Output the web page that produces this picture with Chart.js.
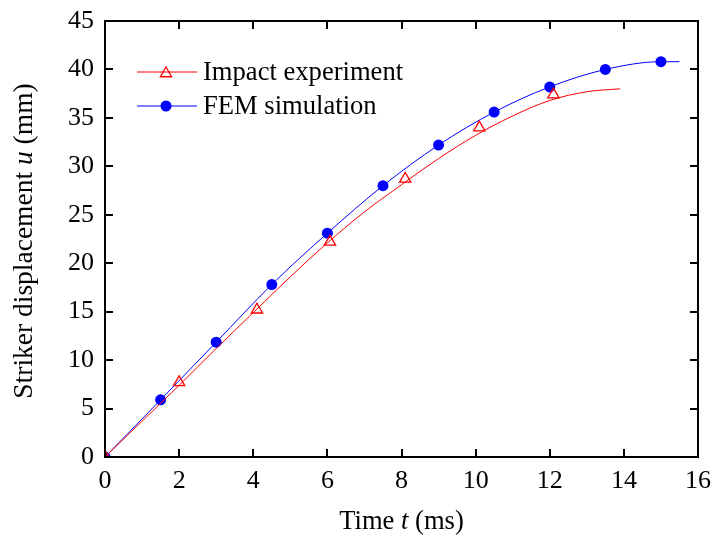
<!DOCTYPE html>
<html>
<head>
<meta charset="utf-8">
<script src="https://cdn.jsdelivr.net/npm/chart.js@4.4.1/dist/chart.umd.min.js"></script>
<style>
  body { margin: 0; background: #fff; }
  canvas { display: block; }
</style>
</head>
<body>
<canvas id="myChart" width="716" height="544"></canvas>
<script>
"use strict";

// measured striker displacement (impact test)
const timeExp = [0, 1, 2, 3, 4, 5, 6, 7, 8, 9, 10, 11, 12, 13, 13.9];
const dispExp = [0, 3.7, 7.4, 11.2, 14.9, 18.6, 22.1, 25.3, 28.1, 30.8, 33.2, 35.2, 36.8, 37.7, 38.0];
// triangle markers on the measured curve
const markTime = [0, 2, 4.1, 6.07, 8.1, 10.1, 12.1];
const markDisp = [0, 7.7, 15.2, 22.2, 28.7, 34.0, 37.4];
// finite element result
const timeSim = [0, 1.5, 3, 4.5, 6, 7.5, 9, 10.5, 12, 13.5, 15, 15.5];
const dispSim = [0, 5.9, 11.85, 17.8, 23.1, 28.0, 32.2, 35.6, 38.2, 40.0, 40.8, 40.8];
// axis ticks
const xTicks = [0, 2, 4, 6, 8, 10, 12, 14, 16];
const yTicks = [0, 5, 10, 15, 20, 25, 30, 35, 40, 45];

const FONT = "'Liberation Serif', 'Times New Roman', serif";
const RED = "#ff0000";
const BLUE = "#0000ff";

function toXY(xs, ys) {
    return xs.map((x, i) => ({x: x, y: ys[i]}));
}

function drawTriangle(ctx, x, y, r) {
    ctx.beginPath();
    ctx.moveTo(x, y - r);
    ctx.lineTo(x + r * Math.sqrt(3) / 2, y + r / 2);
    ctx.lineTo(x - r * Math.sqrt(3) / 2, y + r / 2);
    ctx.closePath();
    ctx.stroke();
}

// frame, inward ticks, legend and axis titles
const decorations = {
    id: "decorations",
    afterDraw(chart) {
        const ctx = chart.ctx;
        const a = chart.chartArea;
        const xs = chart.scales.x, ys = chart.scales.y;
        ctx.save();
        ctx.strokeStyle = "#000";
        ctx.lineWidth = 2;
        ctx.strokeRect(a.left, a.top, a.right - a.left, a.bottom - a.top);

        const tl = 8;
        ctx.beginPath();
        xTicks.forEach(v => {
            const px = Math.round(xs.getPixelForValue(v));
            ctx.moveTo(px, a.bottom); ctx.lineTo(px, a.bottom - tl);
            ctx.moveTo(px, a.top); ctx.lineTo(px, a.top + tl);
        });
        yTicks.forEach(v => {
            const py = Math.round(ys.getPixelForValue(v));
            ctx.moveTo(a.left, py); ctx.lineTo(a.left + tl, py);
            ctx.moveTo(a.right, py); ctx.lineTo(a.right - tl, py);
        });
        ctx.stroke();

        // legend
        const rows = [
            {y: 72, color: RED, label: "Impact experiment", mark: "tri"},
            {y: 106, color: BLUE, label: "FEM simulation", mark: "dot"}
        ];
        rows.forEach(r => {
            ctx.strokeStyle = r.color;
            ctx.lineWidth = 1;
            ctx.beginPath();
            ctx.moveTo(137, r.y); ctx.lineTo(197, r.y);
            ctx.stroke();
            if (r.mark === "tri") {
                ctx.lineWidth = 1.3;
                drawTriangle(ctx, 166, r.y + 1.5, 6.5);
            } else {
                ctx.fillStyle = r.color;
                ctx.beginPath();
                ctx.arc(166, r.y, 5.5, 0, Math.PI * 2);
                ctx.fill();
            }
            ctx.fillStyle = "#000";
            ctx.font = "26.6px " + FONT;
            ctx.textAlign = "left";
            ctx.textBaseline = "middle";
            ctx.fillText(r.label, 203, r.y + 1);
        });

        // axis titles with italic symbols
        const drawParts = (parts, cx, cy, size) => {
            let total = 0;
            parts.forEach(p => {
                ctx.font = (p.it ? "italic " : "") + size + "px " + FONT;
                p.w = ctx.measureText(p.t).width;
                total += p.w;
            });
            let x = cx - total / 2;
            ctx.textAlign = "left";
            ctx.textBaseline = "middle";
            parts.forEach(p => {
                ctx.font = (p.it ? "italic " : "") + size + "px " + FONT;
                ctx.fillText(p.t, x, cy);
                x += p.w;
            });
        };
        ctx.fillStyle = "#000";
        drawParts([{t: "Time "}, {t: "t", it: true}, {t: " (ms)"}], (a.left + a.right) / 2, 522, 26.6);

        ctx.translate(25, (a.top + a.bottom) / 2 + 2);
        ctx.rotate(-Math.PI / 2);
        drawParts([{t: "Striker displacement "}, {t: "u", it: true}, {t: " (mm)"}], 0, 0, 27.5);
        ctx.restore();
    }
};

const ctx = document.getElementById("myChart").getContext("2d");
const myChart = new Chart(ctx, {
    type: "line",
    data: {
        datasets: [
            {
                label: "Impact experiment",
                data: toXY(timeExp, dispExp),
                borderColor: RED,
                borderWidth: 1,
                pointRadius: 0,
                cubicInterpolationMode: "monotone",
                clip: 0
            },
            {
                label: "Impact experiment markers",
                data: toXY(markTime, markDisp),
                showLine: false,
                pointStyle: "triangle",
                pointRadius: 6.5,
                pointBorderWidth: 1.3,
                pointBorderColor: RED,
                pointBackgroundColor: "rgba(0,0,0,0)",
                clip: 0
            },
            {
                label: "FEM simulation",
                data: toXY(timeSim, dispSim),
                borderColor: BLUE,
                borderWidth: 1,
                cubicInterpolationMode: "monotone",
                pointRadius: dispSim.map((v, i) => i === dispSim.length - 1 ? 0 : 5.5),
                pointBackgroundColor: BLUE,
                pointBorderColor: BLUE,
                pointBorderWidth: 0,
                clip: 0
            }
        ]
    },
    options: {
        responsive: false,
        animation: false,
        layout: {padding: {left: 0, top: 21, right: 18, bottom: 0}},
        plugins: {
            legend: {display: false},
            tooltip: {enabled: false}
        },
        scales: {
            x: {
                type: "linear",
                min: 0, max: 16,
                afterFit(scale) { scale.height = 87; },
                afterBuildTicks(scale) { scale.ticks = xTicks.map(v => ({value: v})); },
                grid: {display: false},
                border: {display: false},
                ticks: {
                    color: "#000",
                    font: {family: FONT, size: 26},
                    padding: 1,
                    maxRotation: 0
                }
            },
            y: {
                type: "linear",
                min: 0, max: 45,
                afterFit(scale) { scale.width = 105; },
                afterBuildTicks(scale) { scale.ticks = yTicks.map(v => ({value: v})); },
                grid: {display: false},
                border: {display: false},
                ticks: {
                    color: "#000",
                    font: {family: FONT, size: 26},
                    padding: 3
                }
            }
        }
    },
    plugins: [decorations]
});
</script>
</body>
</html>
